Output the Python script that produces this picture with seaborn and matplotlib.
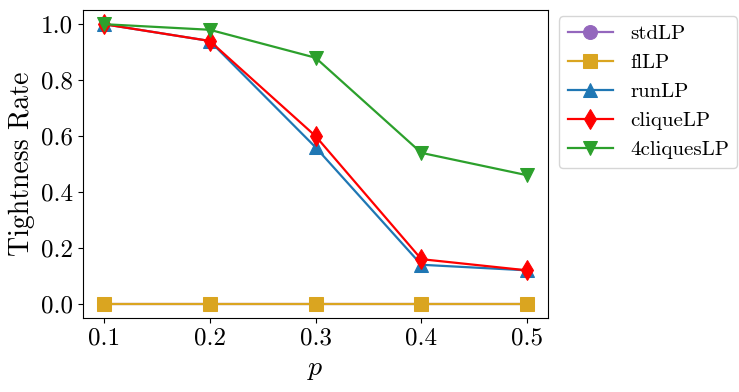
import numpy as np
import pandas as pd
import matplotlib
matplotlib.use("Agg")
import matplotlib.pyplot as plt
import seaborn as sns

# values
p = [0.1, 0.2, 0.3, 0.4, 0.5]
stdLP = [0.0, 0.0, 0.0, 0.0, 0.0]
flLP = [0.0, 0.0, 0.0, 0.0, 0.0]
runLP = [1.0, 0.94, 0.56, 0.14, 0.12]
cliqueLP = [1.0, 0.94, 0.60, 0.16, 0.12]
cliques4LP = [1.0, 0.98, 0.88, 0.54, 0.46]

names = ["stdLP", "flLP", "runLP", "cliqueLP", "4cliquesLP"]
series = [stdLP, flLP, runLP, cliqueLP, cliques4LP]
colors = ["#9467bd", "#DAA520", "#1f77b4", "red", "#2ca02c"]
markers = ["o", "s", "^", "d", "v"]

plt.rcParams["font.family"] = ["cmr10", "DejaVu Serif"]
plt.rcParams["mathtext.fontset"] = "cm"
plt.rcParams["axes.formatter.use_mathtext"] = True

fig = plt.figure(figsize=(7.39, 3.92), dpi=100)
ax = fig.add_axes([0.112, 0.189, 0.630, 0.785])

for name, vals, c, m in zip(names, series, colors, markers):
    df = pd.DataFrame({"p": p, "rate": vals})
    sns.lineplot(data=df, x="p", y="rate", ax=ax, color=c, marker=m,
                 markersize=10, markeredgecolor=c, linewidth=1.6, label=name)

ax.set_xticks(p)
ax.set_xticklabels(["0.1", "0.2", "0.3", "0.4", "0.5"])
ax.set_yticks([0.0, 0.2, 0.4, 0.6, 0.8, 1.0])
ax.set_yticklabels(["0.0", "0.2", "0.4", "0.6", "0.8", "1.0"])
ax.tick_params(labelsize=18)
ax.set_xlabel("$p$", fontsize=20)
ax.set_ylabel("Tightness Rate", fontsize=20)
ax.set_xlim(0.08, 0.52)
ax.set_ylim(-0.05, 1.05)

ax.legend(loc="upper left", bbox_to_anchor=(1.01, 1.0), fontsize=15,
          handlelength=2.2, borderaxespad=0.3)

fig.savefig("out.png", dpi=100)
